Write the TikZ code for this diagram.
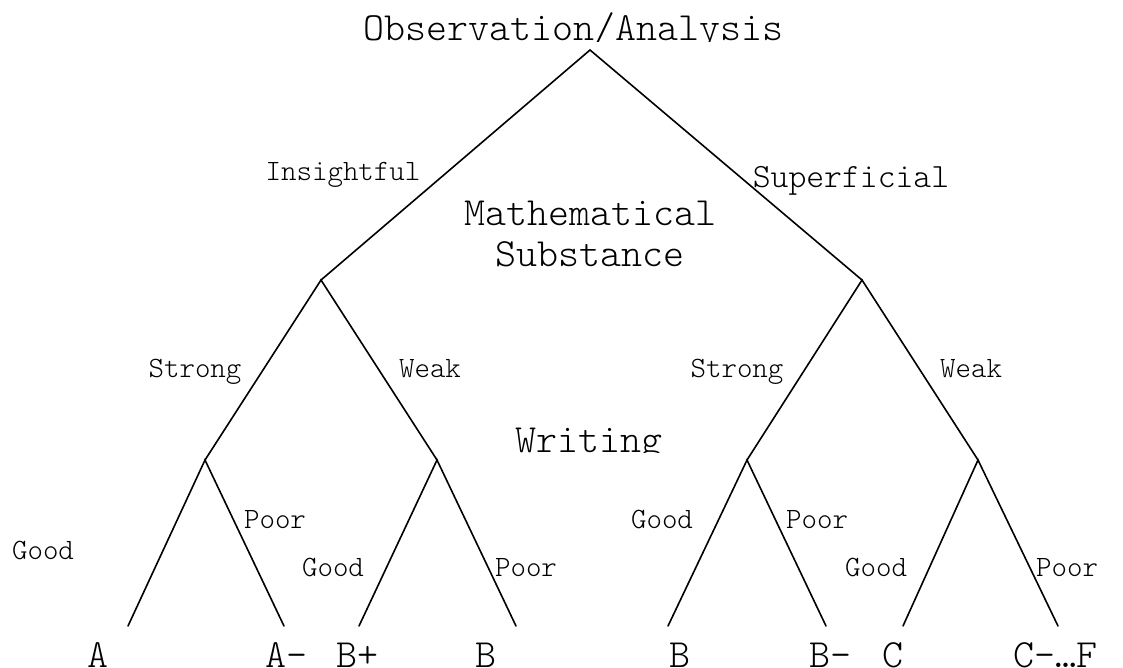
\documentclass[tikz,border=0pt]{standalone}
\usepackage{fontspec}
\newfontfamily\courlt[Extension=.otf]{lmmonolt10-regular}
\begin{document}
\begin{tikzpicture}[x=1pt,y=-1pt,
  big/.style={font=\courlt\fontsize{40}{44}\selectfont, inner sep=0pt, anchor=base},
  mid/.style={font=\courlt\fontsize{34}{38}\selectfont, inner sep=0pt, anchor=base},
  lab/.style={font=\courlt\fontsize{29.5}{33}\selectfont, inner sep=0pt, anchor=base},
  edge/.style={line width=1.6pt, line cap=round}]
\useasboundingbox (0,0) rectangle (1123,667);
% tree vertices
\coordinate (r) at (590,50);
\coordinate (l) at (321,280);
\coordinate (rr) at (862,280);
\coordinate (ll) at (205,460);
\coordinate (lr) at (437,460);
\coordinate (rl) at (747,460);
\coordinate (rrr) at (978,460);
\coordinate (a) at (128,626);
\coordinate (am) at (284,626);
\coordinate (bp) at (359,626);
\coordinate (b1) at (516,626);
\coordinate (b2) at (668,626);
\coordinate (bm) at (826,626);
\coordinate (c) at (903,626);
\coordinate (cf) at (1058,626);
\draw[edge] (l) -- (r) -- (rr);
\draw[edge] (ll) -- (l) -- (lr);
\draw[edge] (rl) -- (rr) -- (rrr);
\draw[edge] (a) -- (ll) -- (am);
\draw[edge] (bp) -- (lr) -- (b1);
\draw[edge] (b2) -- (rl) -- (bm);
\draw[edge] (c) -- (rrr) -- (cf);
% titles
\begin{scope}
\clip (0,0) rectangle (1123,41);
\node[big] (title) at (573,40) {Observation/Analysis};
\end{scope}
\node[big] (math) at (590,225) {Mathematical};
\node[big] (subst) at (590,266) {Substance};
\begin{scope}
\clip (0,400) rectangle (1123,452);
\node[big] (writ) at (589,452) {Writing};
\end{scope}
% edge labels
\node[lab] (ins) at (343,180) {Insightful};
\node[mid] (sup) at (851,187) {Superficial};
\node[lab] (s1) at (195,377) {Strong};
\node[lab] (w1) at (430,377) {Weak};
\node[lab] (s2) at (737,377) {Strong};
\node[lab] (w2) at (971,377) {Weak};
\node[lab] (g1) at (43,559) {Good};
\node[lab] (p1) at (275,528) {Poor};
\node[lab] (g2) at (333,576) {Good};
\node[lab] (p2) at (526,576) {Poor};
\node[lab] (g3) at (662,528) {Good};
\node[lab] (p3) at (817,528) {Poor};
\node[lab] (g4) at (876,576) {Good};
\node[lab] (p4) at (1067,576) {Poor};
% grades
\node[big] (la) at (98,667) {A};
\node[big] (lam) at (286,667) {A-};
\node[big] (lbp) at (357,667) {B+};
\node[big] (lb1) at (486,667) {B};
\node[big] (lb2) at (680,667) {B};
\node[big] (lbm) at (830,667) {B-};
\node[big] (lc) at (893,667) {C};
\node[big] (lcf) at (1055,667) {C-…F};
\end{tikzpicture}
\end{document}
